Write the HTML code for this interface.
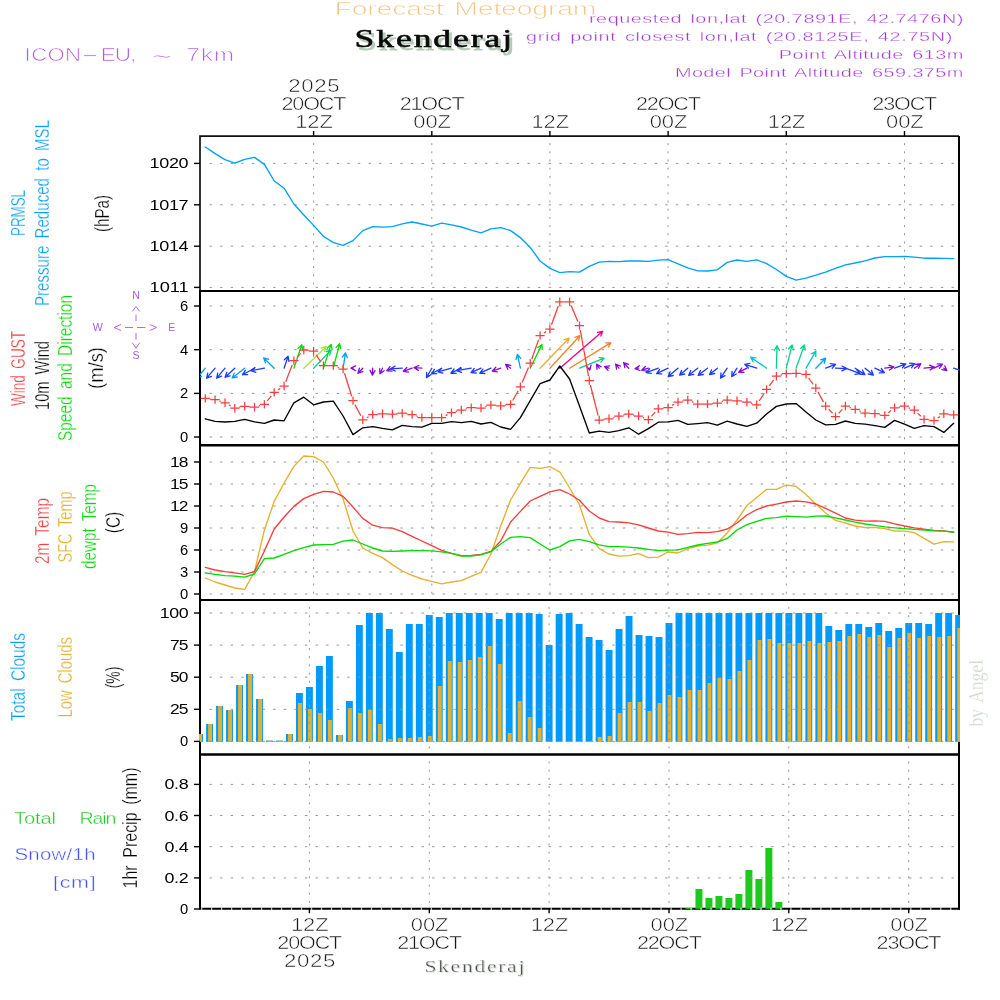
<!DOCTYPE html>
<html lang="en"><head><meta charset="utf-8"><title>Forecast Meteogram Skenderaj</title>
<style>html,body{margin:0;padding:0;background:#fff}svg{display:block}text{font-family:"Liberation Sans",sans-serif}.sf{font-family:"Liberation Serif",serif}.g{stroke:#969696;stroke-width:1;fill:none}.ln{fill:none;stroke-width:1.35;stroke-linejoin:round;stroke-linecap:round}.ax{font-size:14.6px;fill:#111}.tk{stroke:#000;stroke-width:1.4}.vl{font-size:20px}</style></head><body>
<svg width="1000" height="1000" viewBox="0 0 1000 1000">
<rect width="1000" height="1000" fill="#fff"/>
<defs>
<clipPath id="c0"><rect x="200.0" y="136.1" width="759.6" height="154.79999999999998"/></clipPath>
<clipPath id="c1"><rect x="200.0" y="290.9" width="759.6" height="154.40000000000003"/></clipPath>
<clipPath id="c2"><rect x="200.0" y="445.3" width="759.6" height="154.7"/></clipPath>
<clipPath id="c3"><rect x="199.0" y="600.0" width="761.0" height="155.54999999999995"/></clipPath>
<clipPath id="c4"><rect x="199.0" y="754.55" width="761.0" height="155.25"/></clipPath>
</defs>
<line class="g" x1="209.5" x2="958.0" y1="163.4" y2="163.4" stroke-dasharray="2.4 8.2"/>
<line class="g" x1="209.5" x2="958.0" y1="204.8" y2="204.8" stroke-dasharray="2.4 8.2"/>
<line class="g" x1="209.5" x2="958.0" y1="246.2" y2="246.2" stroke-dasharray="2.4 8.2"/>
<line class="g" x1="209.5" x2="958.0" y1="287.4" y2="287.4" stroke-dasharray="2.4 8.2"/>
<line class="g" x1="313.6" x2="313.6" y1="143.1" y2="289.9" stroke-dasharray="2 6.2"/>
<line class="g" x1="431.8" x2="431.8" y1="143.1" y2="289.9" stroke-dasharray="2 6.2"/>
<line class="g" x1="549.9" x2="549.9" y1="143.1" y2="289.9" stroke-dasharray="2 6.2"/>
<line class="g" x1="668.1" x2="668.1" y1="143.1" y2="289.9" stroke-dasharray="2 6.2"/>
<line class="g" x1="786.3" x2="786.3" y1="143.1" y2="289.9" stroke-dasharray="2 6.2"/>
<line class="g" x1="904.5" x2="904.5" y1="143.1" y2="289.9" stroke-dasharray="2 6.2"/>
<line class="g" x1="209.5" x2="958.0" y1="306.0" y2="306.0" stroke-dasharray="2.4 8.2"/>
<line class="g" x1="209.5" x2="958.0" y1="349.7" y2="349.7" stroke-dasharray="2.4 8.2"/>
<line class="g" x1="209.5" x2="958.0" y1="393.4" y2="393.4" stroke-dasharray="2.4 8.2"/>
<line class="g" x1="209.5" x2="958.0" y1="437.0" y2="437.0" stroke-dasharray="2.4 8.2"/>
<line class="g" x1="313.6" x2="313.6" y1="297.9" y2="444.3" stroke-dasharray="2 6.2"/>
<line class="g" x1="431.8" x2="431.8" y1="297.9" y2="444.3" stroke-dasharray="2 6.2"/>
<line class="g" x1="549.9" x2="549.9" y1="297.9" y2="444.3" stroke-dasharray="2 6.2"/>
<line class="g" x1="668.1" x2="668.1" y1="297.9" y2="444.3" stroke-dasharray="2 6.2"/>
<line class="g" x1="786.3" x2="786.3" y1="297.9" y2="444.3" stroke-dasharray="2 6.2"/>
<line class="g" x1="904.5" x2="904.5" y1="297.9" y2="444.3" stroke-dasharray="2 6.2"/>
<line class="g" x1="209.5" x2="958.0" y1="462" y2="462" stroke-dasharray="2.4 8.2"/>
<line class="g" x1="209.5" x2="958.0" y1="484" y2="484" stroke-dasharray="2.4 8.2"/>
<line class="g" x1="209.5" x2="958.0" y1="506" y2="506" stroke-dasharray="2.4 8.2"/>
<line class="g" x1="209.5" x2="958.0" y1="528" y2="528" stroke-dasharray="2.4 8.2"/>
<line class="g" x1="209.5" x2="958.0" y1="550" y2="550" stroke-dasharray="2.4 8.2"/>
<line class="g" x1="209.5" x2="958.0" y1="572" y2="572" stroke-dasharray="2.4 8.2"/>
<line class="g" x1="209.5" x2="958.0" y1="594" y2="594" stroke-dasharray="2.4 8.2"/>
<line class="g" x1="313.6" x2="313.6" y1="452.3" y2="599.0" stroke-dasharray="2 6.2"/>
<line class="g" x1="431.8" x2="431.8" y1="452.3" y2="599.0" stroke-dasharray="2 6.2"/>
<line class="g" x1="549.9" x2="549.9" y1="452.3" y2="599.0" stroke-dasharray="2 6.2"/>
<line class="g" x1="668.1" x2="668.1" y1="452.3" y2="599.0" stroke-dasharray="2 6.2"/>
<line class="g" x1="786.3" x2="786.3" y1="452.3" y2="599.0" stroke-dasharray="2 6.2"/>
<line class="g" x1="904.5" x2="904.5" y1="452.3" y2="599.0" stroke-dasharray="2 6.2"/>
<path d="M200.0 908.8V136.1H959.0" fill="none" stroke="#111" stroke-width="1.7"/>
<path d="M200.0 290.9V908.8" fill="none" stroke="#000" stroke-width="1.9"/>
<path d="M959.0 136.1V909.8" fill="none" stroke="#000" stroke-width="2"/>
<line x1="199.1" x2="960.0" y1="290.9" y2="290.9" stroke="#000" stroke-width="2.0"/>
<line x1="199.1" x2="960.0" y1="445.3" y2="445.3" stroke="#000" stroke-width="2.5"/>
<line x1="199.1" x2="960.0" y1="600.0" y2="600.0" stroke="#000" stroke-width="2.0"/>
<line x1="199.1" x2="960.0" y1="754.55" y2="754.55" stroke="#000" stroke-width="2.4"/>
<line x1="199.1" x2="960.0" y1="908.8" y2="908.8" stroke="#000" stroke-width="2.0"/>
<g clip-path="url(#c3)">
<rect x="196.10" y="734.0" width="6.9" height="7.8" fill="#009bfa"/>
<rect x="206.09" y="724.0" width="6.9" height="17.8" fill="#009bfa"/>
<rect x="216.08" y="706.0" width="6.9" height="35.8" fill="#009bfa"/>
<rect x="226.06" y="710.0" width="6.9" height="31.8" fill="#009bfa"/>
<rect x="236.05" y="685.0" width="6.9" height="56.8" fill="#009bfa"/>
<rect x="246.04" y="674.0" width="6.9" height="67.8" fill="#009bfa"/>
<rect x="256.03" y="699.0" width="6.9" height="42.8" fill="#009bfa"/>
<rect x="266.02" y="740.6" width="6.9" height="1.2" fill="#009bfa"/>
<rect x="276.00" y="740.6" width="6.9" height="1.2" fill="#009bfa"/>
<rect x="285.99" y="734.0" width="6.9" height="7.8" fill="#009bfa"/>
<rect x="295.98" y="693.0" width="6.9" height="48.8" fill="#009bfa"/>
<rect x="305.97" y="687.0" width="6.9" height="54.8" fill="#009bfa"/>
<rect x="315.96" y="666.0" width="6.9" height="75.8" fill="#009bfa"/>
<rect x="325.94" y="656.0" width="6.9" height="85.8" fill="#009bfa"/>
<rect x="335.93" y="735.0" width="6.9" height="6.8" fill="#009bfa"/>
<rect x="345.92" y="701.0" width="6.9" height="40.8" fill="#009bfa"/>
<rect x="355.91" y="625.0" width="6.9" height="116.8" fill="#009bfa"/>
<rect x="365.90" y="613.0" width="6.9" height="128.8" fill="#009bfa"/>
<rect x="375.88" y="613.0" width="6.9" height="128.8" fill="#009bfa"/>
<rect x="385.87" y="629.0" width="6.9" height="112.8" fill="#009bfa"/>
<rect x="395.86" y="652.0" width="6.9" height="89.8" fill="#009bfa"/>
<rect x="405.85" y="624.0" width="6.9" height="117.8" fill="#009bfa"/>
<rect x="415.84" y="624.0" width="6.9" height="117.8" fill="#009bfa"/>
<rect x="425.82" y="615.0" width="6.9" height="126.8" fill="#009bfa"/>
<rect x="435.81" y="617.0" width="6.9" height="124.8" fill="#009bfa"/>
<rect x="445.80" y="613.0" width="6.9" height="128.8" fill="#009bfa"/>
<rect x="455.79" y="613.0" width="6.9" height="128.8" fill="#009bfa"/>
<rect x="465.78" y="613.0" width="6.9" height="128.8" fill="#009bfa"/>
<rect x="475.76" y="613.0" width="6.9" height="128.8" fill="#009bfa"/>
<rect x="485.75" y="613.0" width="6.9" height="128.8" fill="#009bfa"/>
<rect x="495.74" y="619.0" width="6.9" height="122.8" fill="#009bfa"/>
<rect x="505.73" y="613.0" width="6.9" height="128.8" fill="#009bfa"/>
<rect x="515.72" y="613.0" width="6.9" height="128.8" fill="#009bfa"/>
<rect x="525.70" y="613.0" width="6.9" height="128.8" fill="#009bfa"/>
<rect x="535.69" y="614.0" width="6.9" height="127.8" fill="#009bfa"/>
<rect x="545.68" y="645.0" width="6.9" height="96.8" fill="#009bfa"/>
<rect x="555.67" y="614.0" width="6.9" height="127.8" fill="#009bfa"/>
<rect x="565.66" y="613.0" width="6.9" height="128.8" fill="#009bfa"/>
<rect x="575.64" y="624.0" width="6.9" height="117.8" fill="#009bfa"/>
<rect x="585.63" y="637.0" width="6.9" height="104.8" fill="#009bfa"/>
<rect x="595.62" y="640.0" width="6.9" height="101.8" fill="#009bfa"/>
<rect x="605.61" y="650.0" width="6.9" height="91.8" fill="#009bfa"/>
<rect x="615.60" y="629.0" width="6.9" height="112.8" fill="#009bfa"/>
<rect x="625.58" y="616.0" width="6.9" height="125.8" fill="#009bfa"/>
<rect x="635.57" y="635.0" width="6.9" height="106.8" fill="#009bfa"/>
<rect x="645.56" y="636.0" width="6.9" height="105.8" fill="#009bfa"/>
<rect x="655.55" y="637.0" width="6.9" height="104.8" fill="#009bfa"/>
<rect x="665.54" y="623.0" width="6.9" height="118.8" fill="#009bfa"/>
<rect x="675.52" y="613.0" width="6.9" height="128.8" fill="#009bfa"/>
<rect x="685.51" y="613.0" width="6.9" height="128.8" fill="#009bfa"/>
<rect x="695.50" y="613.0" width="6.9" height="128.8" fill="#009bfa"/>
<rect x="705.49" y="613.0" width="6.9" height="128.8" fill="#009bfa"/>
<rect x="715.48" y="613.0" width="6.9" height="128.8" fill="#009bfa"/>
<rect x="725.46" y="613.0" width="6.9" height="128.8" fill="#009bfa"/>
<rect x="735.45" y="613.0" width="6.9" height="128.8" fill="#009bfa"/>
<rect x="745.44" y="613.0" width="6.9" height="128.8" fill="#009bfa"/>
<rect x="755.43" y="613.0" width="6.9" height="128.8" fill="#009bfa"/>
<rect x="765.42" y="613.0" width="6.9" height="128.8" fill="#009bfa"/>
<rect x="775.40" y="613.0" width="6.9" height="128.8" fill="#009bfa"/>
<rect x="785.39" y="613.0" width="6.9" height="128.8" fill="#009bfa"/>
<rect x="795.38" y="613.0" width="6.9" height="128.8" fill="#009bfa"/>
<rect x="805.37" y="613.0" width="6.9" height="128.8" fill="#009bfa"/>
<rect x="815.36" y="613.0" width="6.9" height="128.8" fill="#009bfa"/>
<rect x="825.34" y="626.0" width="6.9" height="115.8" fill="#009bfa"/>
<rect x="835.33" y="630.0" width="6.9" height="111.8" fill="#009bfa"/>
<rect x="845.32" y="624.0" width="6.9" height="117.8" fill="#009bfa"/>
<rect x="855.31" y="624.0" width="6.9" height="117.8" fill="#009bfa"/>
<rect x="865.30" y="627.0" width="6.9" height="114.8" fill="#009bfa"/>
<rect x="875.28" y="623.0" width="6.9" height="118.8" fill="#009bfa"/>
<rect x="885.27" y="631.0" width="6.9" height="110.8" fill="#009bfa"/>
<rect x="895.26" y="628.0" width="6.9" height="113.8" fill="#009bfa"/>
<rect x="905.25" y="623.0" width="6.9" height="118.8" fill="#009bfa"/>
<rect x="915.24" y="623.0" width="6.9" height="118.8" fill="#009bfa"/>
<rect x="925.22" y="624.0" width="6.9" height="117.8" fill="#009bfa"/>
<rect x="935.21" y="613.0" width="6.9" height="128.8" fill="#009bfa"/>
<rect x="945.20" y="613.0" width="6.9" height="128.8" fill="#009bfa"/>
<rect x="955.19" y="615.0" width="6.9" height="126.8" fill="#009bfa"/>
<rect x="198.15" y="734.0" width="3.9" height="7.8" fill="#e6af2d"/>
<rect x="208.14" y="724.0" width="3.9" height="17.8" fill="#e6af2d"/>
<rect x="218.13" y="706.0" width="3.9" height="35.8" fill="#e6af2d"/>
<rect x="228.11" y="710.0" width="3.9" height="31.8" fill="#e6af2d"/>
<rect x="238.10" y="685.0" width="3.9" height="56.8" fill="#e6af2d"/>
<rect x="248.09" y="674.0" width="3.9" height="67.8" fill="#e6af2d"/>
<rect x="258.08" y="699.0" width="3.9" height="42.8" fill="#e6af2d"/>
<rect x="268.07" y="740.6" width="3.9" height="1.2" fill="#e6af2d"/>
<rect x="278.05" y="740.6" width="3.9" height="1.2" fill="#e6af2d"/>
<rect x="288.04" y="734.0" width="3.9" height="7.8" fill="#e6af2d"/>
<rect x="298.03" y="703.0" width="3.9" height="38.8" fill="#e6af2d"/>
<rect x="308.02" y="709.0" width="3.9" height="32.8" fill="#e6af2d"/>
<rect x="318.01" y="713.0" width="3.9" height="28.8" fill="#e6af2d"/>
<rect x="327.99" y="720.0" width="3.9" height="21.8" fill="#e6af2d"/>
<rect x="337.98" y="735.0" width="3.9" height="6.8" fill="#e6af2d"/>
<rect x="347.97" y="708.0" width="3.9" height="33.8" fill="#e6af2d"/>
<rect x="357.96" y="713.0" width="3.9" height="28.8" fill="#e6af2d"/>
<rect x="367.95" y="710.0" width="3.9" height="31.8" fill="#e6af2d"/>
<rect x="377.93" y="724.0" width="3.9" height="17.8" fill="#e6af2d"/>
<rect x="387.92" y="739.0" width="3.9" height="2.8" fill="#e6af2d"/>
<rect x="397.91" y="738.0" width="3.9" height="3.8" fill="#e6af2d"/>
<rect x="407.90" y="738.0" width="3.9" height="3.8" fill="#e6af2d"/>
<rect x="417.89" y="737.0" width="3.9" height="4.8" fill="#e6af2d"/>
<rect x="427.87" y="736.0" width="3.9" height="5.8" fill="#e6af2d"/>
<rect x="437.86" y="686.0" width="3.9" height="55.8" fill="#e6af2d"/>
<rect x="447.85" y="661.0" width="3.9" height="80.8" fill="#e6af2d"/>
<rect x="457.84" y="662.0" width="3.9" height="79.8" fill="#e6af2d"/>
<rect x="467.83" y="660.0" width="3.9" height="81.8" fill="#e6af2d"/>
<rect x="477.81" y="657.0" width="3.9" height="84.8" fill="#e6af2d"/>
<rect x="487.80" y="646.0" width="3.9" height="95.8" fill="#e6af2d"/>
<rect x="497.79" y="664.0" width="3.9" height="77.8" fill="#e6af2d"/>
<rect x="507.78" y="733.0" width="3.9" height="8.8" fill="#e6af2d"/>
<rect x="517.77" y="701.0" width="3.9" height="40.8" fill="#e6af2d"/>
<rect x="527.75" y="717.0" width="3.9" height="24.8" fill="#e6af2d"/>
<rect x="537.74" y="728.0" width="3.9" height="13.8" fill="#e6af2d"/>
<rect x="547.73" y="741.2" width="3.9" height="0.6" fill="#e6af2d"/>
<rect x="557.72" y="741.2" width="3.9" height="0.6" fill="#e6af2d"/>
<rect x="567.71" y="741.2" width="3.9" height="0.6" fill="#e6af2d"/>
<rect x="577.69" y="741.2" width="3.9" height="0.6" fill="#e6af2d"/>
<rect x="587.68" y="741.2" width="3.9" height="0.6" fill="#e6af2d"/>
<rect x="597.67" y="737.0" width="3.9" height="4.8" fill="#e6af2d"/>
<rect x="607.66" y="736.0" width="3.9" height="5.8" fill="#e6af2d"/>
<rect x="617.65" y="713.0" width="3.9" height="28.8" fill="#e6af2d"/>
<rect x="627.63" y="702.0" width="3.9" height="39.8" fill="#e6af2d"/>
<rect x="637.62" y="702.0" width="3.9" height="39.8" fill="#e6af2d"/>
<rect x="647.61" y="711.0" width="3.9" height="30.8" fill="#e6af2d"/>
<rect x="657.60" y="703.0" width="3.9" height="38.8" fill="#e6af2d"/>
<rect x="667.59" y="695.0" width="3.9" height="46.8" fill="#e6af2d"/>
<rect x="677.57" y="697.0" width="3.9" height="44.8" fill="#e6af2d"/>
<rect x="687.56" y="690.0" width="3.9" height="51.8" fill="#e6af2d"/>
<rect x="697.55" y="690.0" width="3.9" height="51.8" fill="#e6af2d"/>
<rect x="707.54" y="683.0" width="3.9" height="58.8" fill="#e6af2d"/>
<rect x="717.53" y="678.0" width="3.9" height="63.8" fill="#e6af2d"/>
<rect x="727.51" y="679.0" width="3.9" height="62.8" fill="#e6af2d"/>
<rect x="737.50" y="671.0" width="3.9" height="70.8" fill="#e6af2d"/>
<rect x="747.49" y="660.0" width="3.9" height="81.8" fill="#e6af2d"/>
<rect x="757.48" y="640.0" width="3.9" height="101.8" fill="#e6af2d"/>
<rect x="767.47" y="639.0" width="3.9" height="102.8" fill="#e6af2d"/>
<rect x="777.45" y="643.0" width="3.9" height="98.8" fill="#e6af2d"/>
<rect x="787.44" y="643.0" width="3.9" height="98.8" fill="#e6af2d"/>
<rect x="797.43" y="643.0" width="3.9" height="98.8" fill="#e6af2d"/>
<rect x="807.42" y="641.0" width="3.9" height="100.8" fill="#e6af2d"/>
<rect x="817.41" y="643.0" width="3.9" height="98.8" fill="#e6af2d"/>
<rect x="827.39" y="642.0" width="3.9" height="99.8" fill="#e6af2d"/>
<rect x="837.38" y="641.0" width="3.9" height="100.8" fill="#e6af2d"/>
<rect x="847.37" y="636.0" width="3.9" height="105.8" fill="#e6af2d"/>
<rect x="857.36" y="634.0" width="3.9" height="107.8" fill="#e6af2d"/>
<rect x="867.35" y="637.0" width="3.9" height="104.8" fill="#e6af2d"/>
<rect x="877.33" y="635.0" width="3.9" height="106.8" fill="#e6af2d"/>
<rect x="887.32" y="647.0" width="3.9" height="94.8" fill="#e6af2d"/>
<rect x="897.31" y="638.0" width="3.9" height="103.8" fill="#e6af2d"/>
<rect x="907.30" y="633.0" width="3.9" height="108.8" fill="#e6af2d"/>
<rect x="917.29" y="638.0" width="3.9" height="103.8" fill="#e6af2d"/>
<rect x="927.27" y="636.0" width="3.9" height="105.8" fill="#e6af2d"/>
<rect x="937.26" y="637.0" width="3.9" height="104.8" fill="#e6af2d"/>
<rect x="947.25" y="636.0" width="3.9" height="105.8" fill="#e6af2d"/>
<rect x="957.24" y="628.0" width="3.9" height="113.8" fill="#e6af2d"/>
</g>
<g clip-path="url(#c4)">
<rect x="685.46" y="908.0" width="7" height="0.8" fill="#1ec81e"/>
<rect x="695.45" y="889.0" width="7" height="19.8" fill="#1ec81e"/>
<rect x="705.44" y="898.0" width="7" height="10.8" fill="#1ec81e"/>
<rect x="715.43" y="896.0" width="7" height="12.8" fill="#1ec81e"/>
<rect x="725.41" y="898.0" width="7" height="10.8" fill="#1ec81e"/>
<rect x="735.40" y="894.0" width="7" height="14.8" fill="#1ec81e"/>
<rect x="745.39" y="870.0" width="7" height="38.8" fill="#1ec81e"/>
<rect x="755.38" y="879.0" width="7" height="29.8" fill="#1ec81e"/>
<rect x="765.37" y="848.0" width="7" height="60.8" fill="#1ec81e"/>
<rect x="775.35" y="902.0" width="7" height="6.8" fill="#1ec81e"/>
</g>
<line class="g" x1="209.5" x2="958.0" y1="613.0" y2="613.0" stroke-dasharray="2.4 8.2"/>
<line class="g" x1="209.5" x2="958.0" y1="645.1" y2="645.1" stroke-dasharray="2.4 8.2"/>
<line class="g" x1="209.5" x2="958.0" y1="677.2" y2="677.2" stroke-dasharray="2.4 8.2"/>
<line class="g" x1="209.5" x2="958.0" y1="709.3" y2="709.3" stroke-dasharray="2.4 8.2"/>
<line class="g" x1="209.5" x2="958.0" y1="741.4" y2="741.4" stroke-dasharray="2.4 8.2"/>
<line class="g" x1="309.4" x2="309.4" y1="607.0" y2="753.5" stroke-dasharray="2 6.2"/>
<line class="g" x1="429.3" x2="429.3" y1="607.0" y2="753.5" stroke-dasharray="2 6.2"/>
<line class="g" x1="549.1" x2="549.1" y1="607.0" y2="753.5" stroke-dasharray="2 6.2"/>
<line class="g" x1="669.0" x2="669.0" y1="607.0" y2="753.5" stroke-dasharray="2 6.2"/>
<line class="g" x1="788.8" x2="788.8" y1="607.0" y2="753.5" stroke-dasharray="2 6.2"/>
<line class="g" x1="908.7" x2="908.7" y1="607.0" y2="753.5" stroke-dasharray="2 6.2"/>
<line class="g" x1="209.5" x2="958.0" y1="784.4" y2="784.4" stroke-dasharray="2.4 8.2"/>
<line class="g" x1="209.5" x2="958.0" y1="815.5" y2="815.5" stroke-dasharray="2.4 8.2"/>
<line class="g" x1="209.5" x2="958.0" y1="846.7" y2="846.7" stroke-dasharray="2.4 8.2"/>
<line class="g" x1="209.5" x2="958.0" y1="877.9" y2="877.9" stroke-dasharray="2.4 8.2"/>
<line class="g" x1="309.4" x2="309.4" y1="761.5" y2="907.8" stroke-dasharray="2 6.2"/>
<line class="g" x1="429.3" x2="429.3" y1="761.5" y2="907.8" stroke-dasharray="2 6.2"/>
<line class="g" x1="549.1" x2="549.1" y1="761.5" y2="907.8" stroke-dasharray="2 6.2"/>
<line class="g" x1="669.0" x2="669.0" y1="761.5" y2="907.8" stroke-dasharray="2 6.2"/>
<line class="g" x1="788.8" x2="788.8" y1="761.5" y2="907.8" stroke-dasharray="2 6.2"/>
<line class="g" x1="908.7" x2="908.7" y1="761.5" y2="907.8" stroke-dasharray="2 6.2"/>
<line x1="201.0" x2="958.0" y1="908.8" y2="908.8" stroke="#fff" stroke-opacity="0.7" stroke-width="2.4" stroke-dasharray="1.3 8.688" stroke-dashoffset="-10.00"/>
<polyline class="ln" clip-path="url(#c0)" points="205.3,147.0 215.1,153.6 225.0,159.6 234.8,163.2 244.7,159.4 254.5,157.4 264.4,164.4 274.2,181.0 284.1,188.2 293.9,204.0 303.8,215.0 313.6,225.4 323.4,236.2 333.3,242.6 343.1,245.4 353.0,240.6 362.8,230.6 372.7,226.6 382.5,227.2 392.4,226.6 402.2,223.8 412.1,222.0 421.9,224.0 431.8,226.2 441.6,223.2 451.5,224.8 461.3,227.0 471.2,230.2 481.0,232.8 490.9,228.8 500.7,227.6 510.6,230.6 520.4,237.6 530.2,247.4 540.1,261.0 549.9,268.4 559.8,272.6 569.6,271.6 579.5,272.2 589.3,266.4 599.2,262.2 609.0,261.4 618.9,261.6 628.7,261.0 638.6,261.0 648.4,261.4 658.3,260.2 668.1,259.6 678.0,263.8 687.8,267.8 697.7,270.8 707.5,271.0 717.4,269.8 727.2,262.4 737.0,260.0 746.9,261.4 756.7,259.8 766.6,263.6 776.4,269.5 786.3,276.4 796.1,280.2 806.0,278.2 815.8,275.2 825.7,272.2 835.5,268.4 845.4,264.8 855.2,263.0 865.1,260.8 874.9,258.0 884.8,256.6 894.6,256.6 904.5,256.4 914.3,257.2 924.1,258.2 934.0,258.2 943.8,258.4 953.7,258.6" stroke="#00a0ff"/>
<g clip-path="url(#c1)" fill="none" stroke-width="1.3" stroke-linecap="round" stroke-linejoin="round">
<path stroke="#00a0ff" d="M205.3 368.2L196.8 378.2M201.6 376.3L196.8 378.2L197.9 373.1"/>
<path stroke="#1e3cff" d="M215.1 368.2L206.6 378.2M211.5 376.3L206.6 378.2L207.7 373.1"/>
<path stroke="#1e3cff" d="M225.0 368.2L216.7 378.2M221.5 376.2L216.7 378.2L217.7 373.1"/>
<path stroke="#1e3cff" d="M234.8 368.2L225.1 377.2M230.1 375.9L225.1 377.2L226.8 372.3"/>
<path stroke="#00a0ff" d="M244.7 368.2L232.1 377.9M237.2 377.0L232.1 377.9L234.2 373.2"/>
<path stroke="#1e3cff" d="M254.5 368.2L242.5 374.7M247.7 374.7L242.5 374.7L245.4 370.4"/>
<path stroke="#1e3cff" d="M264.4 368.2L250.9 370.7M255.8 372.3L250.9 370.7L254.9 367.5"/>
<path stroke="#00a0ff" d="M274.2 368.2L263.7 357.9M265.3 362.9L263.7 357.9L268.7 359.4"/>
<path stroke="#1e3cff" d="M284.1 368.2L288.1 356.2M284.3 359.8L288.1 356.2L288.9 361.3"/>
<path stroke="#00dc00" d="M293.9 368.2L301.8 344.8M298.0 348.4L301.8 344.8L302.7 349.9"/>
<path stroke="#a0e632" d="M303.8 368.2L326.2 346.6M321.2 348.0L326.2 346.6L324.5 351.5"/>
<path stroke="#00d28c" d="M313.6 368.2L331.1 350.1M326.2 351.7L331.1 350.1L329.7 355.1"/>
<path stroke="#00dc00" d="M323.4 368.2L331.1 344.4M327.3 348.0L331.1 344.4L332.0 349.5"/>
<path stroke="#00dc00" d="M333.3 368.2L339.6 343.6M336.1 347.4L339.6 343.6L340.8 348.7"/>
<path stroke="#00a0ff" d="M343.1 368.2L345.5 352.8M342.4 357.0L345.5 352.8L347.3 357.7"/>
<path stroke="#8a0adc" d="M353.0 368.2L351.0 368.2M355.6 370.6L351.0 368.2L355.6 365.8"/>
<path stroke="#8a0adc" d="M362.8 368.2L357.9 373.2M362.9 371.6L357.9 373.2L359.4 368.2"/>
<path stroke="#8a0adc" d="M372.7 368.2L372.4 375.1M375.0 370.6L372.4 375.1L370.1 370.4"/>
<path stroke="#8a0adc" d="M382.5 368.2L379.9 373.8M384.1 370.7L379.9 373.8L379.7 368.6"/>
<path stroke="#8a0adc" d="M392.4 368.2L386.8 370.7M392.0 371.1L386.8 370.7L390.0 366.6"/>
<path stroke="#1e3cff" d="M402.2 368.2L390.6 368.8M395.3 371.0L390.6 368.8L395.1 366.1"/>
<path stroke="#8a0adc" d="M412.1 368.2L403.3 371.3M408.5 372.1L403.3 371.3L406.8 367.5"/>
<path stroke="#8a0adc" d="M421.9 368.2L414.0 367.6M418.4 370.4L414.0 367.6L418.8 365.5"/>
<path stroke="#1e3cff" d="M431.8 368.2L426.5 377.6M430.9 374.8L426.5 377.6L426.6 372.4"/>
<path stroke="#1e3cff" d="M441.6 368.2L431.5 373.8M436.7 373.7L431.5 373.8L434.4 369.4"/>
<path stroke="#1e3cff" d="M451.5 368.2L437.9 371.9M442.9 373.1L437.9 371.9L441.6 368.4"/>
<path stroke="#1e3cff" d="M461.3 368.2L450.9 373.2M456.1 373.4L450.9 373.2L454.0 369.0"/>
<path stroke="#1e3cff" d="M471.2 368.2L456.6 370.7M461.5 372.3L456.6 370.7L460.7 367.5"/>
<path stroke="#1e3cff" d="M481.0 368.2L471.0 372.6M476.2 373.0L471.0 372.6L474.2 368.5"/>
<path stroke="#1e3cff" d="M490.9 368.2L479.8 373.2M484.9 373.5L479.8 373.2L482.9 369.1"/>
<path stroke="#8a0adc" d="M500.7 368.2L492.2 371.1M497.3 371.9L492.2 371.1L495.8 367.3"/>
<path stroke="#8a0adc" d="M510.6 368.2L505.6 364.4M507.8 369.2L505.6 364.4L510.7 365.3"/>
<path stroke="#00a0ff" d="M520.4 368.2L517.4 354.4M516.0 359.5L517.4 354.4L520.8 358.4"/>
<path stroke="#00dc00" d="M530.2 368.2L542.0 344.4M537.8 347.5L542.0 344.4L542.1 349.6"/>
<path stroke="#e6af2d" d="M540.1 368.2L569.0 338.2M564.1 339.8L569.0 338.2L567.6 343.2"/>
<path stroke="#f08228" d="M549.9 368.2L579.9 335.7M575.0 337.4L579.9 335.7L578.6 340.7"/>
<path stroke="#f00082" d="M559.8 368.2L602.7 331.3M597.6 332.4L602.7 331.3L600.8 336.1"/>
<path stroke="#f08228" d="M569.6 368.2L610.9 342.6M605.7 342.9L610.9 342.6L608.3 347.1"/>
<path stroke="#00d28c" d="M579.5 368.2L604.2 358.2M599.1 357.7L604.2 358.2L600.9 362.2"/>
<path stroke="#8a0adc" d="M589.3 368.2L589.8 370.2M591.1 365.2L589.8 370.2L586.4 366.3"/>
<path stroke="#8a0adc" d="M599.2 368.2L596.6 364.1M597.0 369.3L596.6 364.1L601.1 366.7"/>
<path stroke="#8a0adc" d="M609.0 368.2L604.5 366.6M608.0 370.4L604.5 366.6L609.7 365.8"/>
<path stroke="#8a0adc" d="M618.9 368.2L615.6 364.1M616.6 369.2L615.6 364.1L620.4 366.1"/>
<path stroke="#8a0adc" d="M628.7 368.2L623.6 362.6M624.9 367.6L623.6 362.6L628.5 364.4"/>
<path stroke="#8a0adc" d="M638.6 368.2L635.1 368.6M639.9 370.5L635.1 368.6L639.4 365.7"/>
<path stroke="#8a0adc" d="M648.4 368.2L641.6 370.1M646.7 371.2L641.6 370.1L645.4 366.5"/>
<path stroke="#1e3cff" d="M658.3 368.2L646.1 372.6M651.2 373.3L646.1 372.6L649.6 368.7"/>
<path stroke="#1e3cff" d="M668.1 368.2L656.6 373.6M661.8 373.9L656.6 373.6L659.7 369.4"/>
<path stroke="#1e3cff" d="M678.0 368.2L668.2 376.6M673.2 375.5L668.2 376.6L670.1 371.8"/>
<path stroke="#1e3cff" d="M687.8 368.2L679.7 375.1M684.8 374.0L679.7 375.1L681.6 370.3"/>
<path stroke="#1e3cff" d="M697.7 368.2L688.7 375.3M693.8 374.4L688.7 375.3L690.7 370.5"/>
<path stroke="#1e3cff" d="M707.5 368.2L698.2 375.3M703.3 374.5L698.2 375.3L700.4 370.6"/>
<path stroke="#1e3cff" d="M717.4 368.2L709.6 374.6M714.7 373.5L709.6 374.6L711.6 369.8"/>
<path stroke="#1e3cff" d="M727.2 368.2L720.5 378.1M725.1 375.7L720.5 378.1L721.0 372.9"/>
<path stroke="#1e3cff" d="M737.0 368.2L731.7 376.6M736.3 374.0L731.7 376.6L732.1 371.4"/>
<path stroke="#8a0adc" d="M746.9 368.2L738.7 372.3M743.9 372.4L738.7 372.3L741.7 368.1"/>
<path stroke="#1e3cff" d="M756.7 368.2L744.7 364.3M748.4 368.0L744.7 364.3L749.9 363.4"/>
<path stroke="#00c8c8" d="M766.6 368.2L750.7 357.2M753.1 361.8L750.7 357.2L755.9 357.8"/>
<path stroke="#00d28c" d="M776.4 368.2L777.0 345.7M774.5 350.2L777.0 345.7L779.4 350.4"/>
<path stroke="#00d28c" d="M786.3 368.2L792.1 344.9M788.6 348.8L792.1 344.9L793.3 349.9"/>
<path stroke="#00d28c" d="M796.1 368.2L804.4 344.9M800.6 348.4L804.4 344.9L805.2 350.0"/>
<path stroke="#00c8c8" d="M806.0 368.2L815.9 351.2M811.5 353.9L815.9 351.2L815.7 356.4"/>
<path stroke="#00a0ff" d="M815.8 368.2L825.6 358.2M820.7 359.8L825.6 358.2L824.2 363.2"/>
<path stroke="#1e3cff" d="M825.7 368.2L835.6 364.3M830.4 363.7L835.6 364.3L832.2 368.3"/>
<path stroke="#1e3cff" d="M835.5 368.2L846.6 368.6M842.1 366.0L846.6 368.6L841.9 370.9"/>
<path stroke="#1e3cff" d="M845.4 368.2L860.2 373.6M856.7 369.7L860.2 373.6L855.0 374.3"/>
<path stroke="#1e3cff" d="M855.2 368.2L864.9 374.6M862.4 370.0L864.9 374.6L859.7 374.1"/>
<path stroke="#1e3cff" d="M865.1 368.2L873.4 375.1M871.4 370.3L873.4 375.1L868.3 374.0"/>
<path stroke="#1e3cff" d="M874.9 368.2L884.4 372.6M881.3 368.5L884.4 372.6L879.2 372.9"/>
<path stroke="#8a0adc" d="M884.8 368.2L893.8 366.9M888.9 365.1L893.8 366.9L889.6 370.0"/>
<path stroke="#1e3cff" d="M894.6 368.2L905.9 363.9M900.7 363.3L905.9 363.9L902.5 367.8"/>
<path stroke="#1e3cff" d="M904.5 368.2L914.8 363.6M909.6 363.2L914.8 363.6L911.6 367.7"/>
<path stroke="#8a0adc" d="M914.3 368.2L920.8 363.6M915.6 364.3L920.8 363.6L918.5 368.2"/>
<path stroke="#8a0adc" d="M924.1 368.2L934.4 367.1M929.6 365.2L934.4 367.1L930.1 370.0"/>
<path stroke="#8a0adc" d="M934.0 368.2L942.5 364.1M937.3 363.9L942.5 364.1L939.4 368.3"/>
<path stroke="#8a0adc" d="M943.8 368.2L946.9 370.6M944.8 365.9L946.9 370.6L941.8 369.7"/>
<path stroke="#1e3cff" d="M953.7 368.2L965.7 372.2M962.1 368.4L965.7 372.2L960.6 373.1"/>
</g>
<g clip-path="url(#c1)" stroke="#fa3c3c" stroke-width="1.25" fill="none" stroke-linecap="butt">
<path d="M209.7 398.9L210.7 399.1M219.4 401.0L220.7 401.4M228.9 405.0L230.9 406.0M239.2 407.4L240.2 407.2M249.2 406.8L250.0 406.8M258.8 406.0L260.0 405.6M267.2 400.9L271.4 395.9M278.0 389.9L280.3 388.5M285.7 381.8L292.3 364.8M297.0 357.3L300.7 353.3M308.2 350.5L309.1 350.7M316.1 354.9L320.9 361.9M327.9 365.6L328.8 365.6M337.6 367.1L338.9 367.5M344.5 373.3L351.7 396.3M355.0 404.6L360.8 415.8M366.8 417.7L368.7 416.7M377.2 414.2L378.0 414.2M387.0 413.9L387.9 413.9M396.9 413.6L397.7 413.6M406.7 413.8L407.6 414.0M416.4 415.9L417.6 416.3M426.4 417.6L427.3 417.6M436.3 417.6L437.1 417.6M445.6 415.6L447.5 414.6M455.8 411.5L457.0 411.1M465.7 408.9L466.8 408.7M475.7 407.8L476.5 407.8M485.3 406.7L486.6 406.3M495.3 405.4L496.2 405.4M505.2 405.2L506.1 405.0M512.7 400.5L518.2 390.7M522.1 382.6L528.5 367.4M531.8 359.0L538.6 339.8M543.8 333.1L546.2 331.5M551.5 324.8L558.3 306.0M564.3 301.8L565.1 301.8M571.4 306.0L577.8 321.4M580.3 330.0L588.5 376.2M590.4 385.0L598.1 415.6M603.6 419.5L604.6 419.3M613.4 417.6L614.5 417.2M623.3 415.1L624.3 414.9M633.1 414.9L634.2 415.1M642.8 417.5L644.2 418.1M651.4 416.3L655.2 412.1M662.7 408.3L663.6 408.1M672.0 405.4L674.0 404.2M682.4 401.1L683.4 400.9M692.0 401.7L693.5 402.3M702.2 404.0L703.0 404.0M712.0 403.5L712.9 403.5M721.7 401.7L722.9 401.3M731.7 400.4L732.6 400.4M741.5 401.4L742.4 401.6M751.2 403.3L752.4 403.7M759.2 401.0L764.2 393.2M769.3 385.8L773.7 379.8M780.8 375.1L781.9 374.7M790.8 373.5L791.6 373.5M800.6 373.9L801.5 373.9M808.6 378.0L813.2 384.4M818.0 391.9L823.5 402.1M828.7 409.3L832.5 413.3M838.6 413.3L842.3 409.3M849.6 407.5L851.0 407.9M859.4 410.9L860.8 411.5M869.6 413.3L870.4 413.3M879.3 414.4L880.3 414.6M888.3 412.7L891.0 410.5M899.0 407.1L900.0 406.9M908.7 407.8L910.1 408.4M917.6 413.1L920.9 416.3M928.6 419.9L929.5 420.1M937.7 418.0L940.1 416.4M948.3 414.3L949.2 414.3"/>
<path d="M200.7 398.4h9.2M205.3 394.2v8.4M210.5 399.6h9.2M215.1 395.4v8.4M220.4 402.8h9.2M225.0 398.6v8.4M230.2 408.2h9.2M234.8 404.0v8.4M240.1 406.4h9.2M244.7 402.2v8.4M249.9 407.2h9.2M254.5 403.0v8.4M259.8 404.4h9.2M264.4 400.2v8.4M269.6 392.4h9.2M274.2 388.2v8.4M279.5 386.0h9.2M284.1 381.8v8.4M289.3 360.6h9.2M293.9 356.4v8.4M299.2 350.0h9.2M303.8 345.8v8.4M309.0 351.2h9.2M313.6 347.0v8.4M318.8 365.6h9.2M323.4 361.4v8.4M328.7 365.6h9.2M333.3 361.4v8.4M338.5 369.0h9.2M343.1 364.8v8.4M348.4 400.6h9.2M353.0 396.4v8.4M358.2 419.8h9.2M362.8 415.6v8.4M368.1 414.6h9.2M372.7 410.4v8.4M377.9 413.8h9.2M382.5 409.6v8.4M387.8 414.0h9.2M392.4 409.8v8.4M397.6 413.2h9.2M402.2 409.0v8.4M407.5 414.6h9.2M412.1 410.4v8.4M417.3 417.6h9.2M421.9 413.4v8.4M427.2 417.6h9.2M431.8 413.4v8.4M437.0 417.6h9.2M441.6 413.4v8.4M446.9 412.6h9.2M451.5 408.4v8.4M456.7 410.0h9.2M461.3 405.8v8.4M466.6 407.6h9.2M471.2 403.4v8.4M476.4 408.0h9.2M481.0 403.8v8.4M486.3 405.0h9.2M490.9 400.8v8.4M496.1 405.8h9.2M500.7 401.6v8.4M506.0 404.4h9.2M510.6 400.2v8.4M515.8 386.8h9.2M520.4 382.6v8.4M525.6 363.2h9.2M530.2 359.0v8.4M535.5 335.6h9.2M540.1 331.4v8.4M545.3 329.0h9.2M549.9 324.8v8.4M555.2 301.8h9.2M559.8 297.6v8.4M565.0 301.8h9.2M569.6 297.6v8.4M574.9 325.6h9.2M579.5 321.4v8.4M584.7 380.6h9.2M589.3 376.4v8.4M594.6 420.0h9.2M599.2 415.8v8.4M604.4 418.8h9.2M609.0 414.6v8.4M614.3 416.0h9.2M618.9 411.8v8.4M624.1 414.0h9.2M628.7 409.8v8.4M634.0 416.0h9.2M638.6 411.8v8.4M643.8 419.6h9.2M648.4 415.4v8.4M653.7 408.8h9.2M658.3 404.6v8.4M663.5 407.6h9.2M668.1 403.4v8.4M673.4 402.0h9.2M678.0 397.8v8.4M683.2 400.0h9.2M687.8 395.8v8.4M693.1 404.0h9.2M697.7 399.8v8.4M702.9 404.0h9.2M707.5 399.8v8.4M712.8 403.0h9.2M717.4 398.8v8.4M722.6 400.0h9.2M727.2 395.8v8.4M732.4 400.8h9.2M737.0 396.6v8.4M742.3 402.2h9.2M746.9 398.0v8.4M752.1 404.8h9.2M756.7 400.6v8.4M762.0 389.4h9.2M766.6 385.2v8.4M771.8 376.2h9.2M776.4 372.0v8.4M781.7 373.6h9.2M786.3 369.4v8.4M791.5 373.4h9.2M796.1 369.2v8.4M801.4 374.4h9.2M806.0 370.2v8.4M811.2 388.0h9.2M815.8 383.8v8.4M821.1 406.0h9.2M825.7 401.8v8.4M830.9 416.6h9.2M835.5 412.4v8.4M840.8 406.0h9.2M845.4 401.8v8.4M850.6 409.4h9.2M855.2 405.2v8.4M860.5 413.0h9.2M865.1 408.8v8.4M870.3 413.6h9.2M874.9 409.4v8.4M880.2 415.4h9.2M884.8 411.2v8.4M890.0 407.8h9.2M894.6 403.6v8.4M899.9 406.2h9.2M904.5 402.0v8.4M909.7 410.0h9.2M914.3 405.8v8.4M919.5 419.4h9.2M924.1 415.2v8.4M929.4 420.6h9.2M934.0 416.4v8.4M939.2 413.8h9.2M943.8 409.6v8.4M949.1 414.8h9.2M953.7 410.6v8.4"/>
</g>
<polyline class="ln" clip-path="url(#c1)" points="205.3,418.8 215.1,421.4 225.0,422.0 234.8,421.4 244.7,419.4 254.5,421.8 264.4,423.4 274.2,420.0 284.1,420.8 293.9,402.8 303.8,397.2 313.6,404.8 323.4,402.0 333.3,401.2 343.1,416.0 353.0,434.6 362.8,427.8 372.7,426.6 382.5,428.4 392.4,429.8 402.2,425.4 412.1,426.6 421.9,427.2 431.8,423.4 441.6,423.4 451.5,421.6 461.3,422.6 471.2,421.4 481.0,424.0 490.9,422.4 500.7,427.0 510.6,429.4 520.4,417.6 530.2,400.6 540.1,383.6 549.9,380.0 559.8,366.0 569.6,379.0 579.5,406.0 589.3,433.0 599.2,431.2 609.0,432.4 618.9,430.6 628.7,427.8 638.6,434.2 648.4,428.6 658.3,422.2 668.1,421.8 678.0,420.4 687.8,424.4 697.7,423.6 707.5,422.6 717.4,425.2 727.2,421.2 737.0,424.0 746.9,426.4 756.7,423.2 766.6,414.0 776.4,406.4 786.3,404.0 796.1,403.6 806.0,412.0 815.8,420.0 825.7,424.8 835.5,424.4 845.4,421.0 855.2,423.4 865.1,424.2 874.9,425.6 884.8,427.4 894.6,420.4 904.5,424.2 914.3,428.4 924.1,425.6 934.0,426.6 943.8,432.4 953.7,423.2" stroke="#000" stroke-width="1.35"/>
<polyline class="ln" clip-path="url(#c2)" points="205.3,578.0 215.1,582.0 225.0,585.0 234.8,588.0 244.7,589.4 254.5,571.6 264.4,530.0 274.2,501.4 284.1,483.0 293.9,466.4 303.8,456.0 313.6,456.6 323.4,462.0 333.3,478.0 343.1,499.0 353.0,531.0 362.8,548.0 372.7,553.4 382.5,557.6 392.4,564.6 402.2,571.0 412.1,575.4 421.9,579.0 431.8,581.4 441.6,583.8 451.5,582.0 461.3,580.6 471.2,576.4 481.0,572.4 490.9,554.0 500.7,526.0 510.6,500.0 520.4,483.4 530.2,467.4 540.1,468.4 549.9,466.6 559.8,472.0 569.6,488.0 579.5,505.0 589.3,534.4 599.2,548.6 609.0,554.0 618.9,556.2 628.7,555.6 638.6,553.6 648.4,557.6 658.3,557.2 668.1,552.0 678.0,553.0 687.8,548.6 697.7,546.0 707.5,545.2 717.4,542.8 727.2,533.0 737.0,520.0 746.9,505.6 756.7,497.4 766.6,489.4 776.4,489.4 786.3,485.0 796.1,486.4 806.0,494.6 815.8,504.0 825.7,513.0 835.5,520.4 845.4,523.2 855.2,526.0 865.1,527.6 874.9,527.4 884.8,528.6 894.6,531.0 904.5,531.2 914.3,532.6 924.1,538.4 934.0,544.2 943.8,541.6 953.7,541.8" stroke="#e6af2d"/>
<polyline class="ln" clip-path="url(#c2)" points="205.3,567.4 215.1,570.0 225.0,571.6 234.8,572.8 244.7,574.4 254.5,571.6 264.4,551.0 274.2,529.0 284.1,517.0 293.9,506.4 303.8,498.6 313.6,494.4 323.4,491.4 333.3,492.0 343.1,496.4 353.0,507.0 362.8,518.4 372.7,525.2 382.5,527.6 392.4,528.2 402.2,531.6 412.1,536.4 421.9,541.0 431.8,545.6 441.6,550.4 451.5,553.4 461.3,555.6 471.2,555.4 481.0,554.4 490.9,551.4 500.7,541.0 510.6,522.0 520.4,511.4 530.2,501.0 540.1,496.4 549.9,491.8 559.8,489.6 569.6,494.0 579.5,500.2 589.3,511.0 599.2,518.0 609.0,521.6 618.9,522.0 628.7,522.8 638.6,524.8 648.4,528.0 658.3,531.0 668.1,532.2 678.0,534.4 687.8,533.6 697.7,532.4 707.5,532.6 717.4,531.6 727.2,529.0 737.0,523.0 746.9,515.0 756.7,509.6 766.6,506.0 776.4,504.2 786.3,502.0 796.1,501.0 806.0,501.8 815.8,504.0 825.7,508.4 835.5,513.2 845.4,518.0 855.2,520.2 865.1,521.2 874.9,520.8 884.8,521.4 894.6,523.8 904.5,526.0 914.3,527.8 924.1,529.2 934.0,530.4 943.8,530.8 953.7,532.4" stroke="#fa3c3c"/>
<polyline class="ln" clip-path="url(#c2)" points="205.3,572.8 215.1,574.4 225.0,575.6 234.8,576.2 244.7,577.2 254.5,574.0 264.4,558.6 274.2,558.0 284.1,554.4 293.9,550.6 303.8,547.6 313.6,545.0 323.4,544.6 333.3,544.4 343.1,541.2 353.0,540.0 362.8,544.0 372.7,548.0 382.5,551.0 392.4,551.4 402.2,551.0 412.1,550.6 421.9,550.6 431.8,550.8 441.6,551.8 451.5,553.4 461.3,556.0 471.2,556.0 481.0,554.8 490.9,551.6 500.7,544.0 510.6,537.4 520.4,536.6 530.2,537.6 540.1,544.0 549.9,550.0 559.8,546.6 569.6,540.8 579.5,539.4 589.3,541.6 599.2,544.8 609.0,546.6 618.9,546.6 628.7,547.2 638.6,548.0 648.4,549.4 658.3,550.6 668.1,550.2 678.0,549.8 687.8,547.4 697.7,545.0 707.5,543.4 717.4,542.0 727.2,538.4 737.0,530.0 746.9,524.6 756.7,521.4 766.6,518.4 776.4,517.6 786.3,516.2 796.1,516.6 806.0,517.2 815.8,516.2 825.7,516.0 835.5,517.8 845.4,520.0 855.2,522.2 865.1,524.0 874.9,525.4 884.8,526.8 894.6,527.8 904.5,528.6 914.3,529.4 924.1,530.0 934.0,530.8 943.8,531.2 953.7,532.0" stroke="#00dc00"/>
<line class="tk" x1="194" x2="200.0" y1="163.4" y2="163.4"/>
<text x="188.25" y="168.4" font-size="14.3px" fill="#000" text-anchor="end" letter-spacing="-0.274" textLength="38.7" lengthAdjust="spacingAndGlyphs">1020</text>
<line class="tk" x1="194" x2="200.0" y1="204.8" y2="204.8"/>
<text x="188.25" y="209.8" font-size="14.3px" fill="#000" text-anchor="end" letter-spacing="-0.274" textLength="38.7" lengthAdjust="spacingAndGlyphs">1017</text>
<line class="tk" x1="194" x2="200.0" y1="246.2" y2="246.2"/>
<text x="188.25" y="251.2" font-size="14.3px" fill="#000" text-anchor="end" letter-spacing="-0.274" textLength="38.7" lengthAdjust="spacingAndGlyphs">1014</text>
<line class="tk" x1="194" x2="200.0" y1="287.4" y2="287.4"/>
<text x="188.59" y="292.4" font-size="14.3px" fill="#000" text-anchor="end" letter-spacing="-0.009" textLength="39.0" lengthAdjust="spacingAndGlyphs">1011</text>
<line class="tk" x1="194" x2="200.0" y1="306.0" y2="306.0"/>
<text x="186.98" y="311.0" font-size="14.3px" fill="#000" text-anchor="end" letter-spacing="-1.276" textLength="6.9" lengthAdjust="spacingAndGlyphs">6</text>
<line class="tk" x1="194" x2="200.0" y1="349.7" y2="349.7"/>
<text x="186.98" y="354.7" font-size="14.3px" fill="#000" text-anchor="end" letter-spacing="-1.276" textLength="6.9" lengthAdjust="spacingAndGlyphs">4</text>
<line class="tk" x1="194" x2="200.0" y1="393.4" y2="393.4"/>
<text x="186.98" y="398.4" font-size="14.3px" fill="#000" text-anchor="end" letter-spacing="-1.276" textLength="6.9" lengthAdjust="spacingAndGlyphs">2</text>
<line class="tk" x1="194" x2="200.0" y1="437.0" y2="437.0"/>
<text x="186.98" y="442.0" font-size="14.3px" fill="#000" text-anchor="end" letter-spacing="-1.276" textLength="6.9" lengthAdjust="spacingAndGlyphs">0</text>
<line class="tk" x1="194" x2="200.0" y1="462" y2="462"/>
<text x="187.83" y="467.0" font-size="14.3px" fill="#000" text-anchor="end" letter-spacing="-0.608" textLength="17.9" lengthAdjust="spacingAndGlyphs">18</text>
<line class="tk" x1="194" x2="200.0" y1="484" y2="484"/>
<text x="187.83" y="489.0" font-size="14.3px" fill="#000" text-anchor="end" letter-spacing="-0.608" textLength="17.9" lengthAdjust="spacingAndGlyphs">15</text>
<line class="tk" x1="194" x2="200.0" y1="506" y2="506"/>
<text x="187.83" y="511.0" font-size="14.3px" fill="#000" text-anchor="end" letter-spacing="-0.608" textLength="17.9" lengthAdjust="spacingAndGlyphs">12</text>
<line class="tk" x1="194" x2="200.0" y1="528" y2="528"/>
<text x="186.98" y="533.0" font-size="14.3px" fill="#000" text-anchor="end" letter-spacing="-1.276" textLength="6.9" lengthAdjust="spacingAndGlyphs">9</text>
<line class="tk" x1="194" x2="200.0" y1="550" y2="550"/>
<text x="186.98" y="555.0" font-size="14.3px" fill="#000" text-anchor="end" letter-spacing="-1.276" textLength="6.9" lengthAdjust="spacingAndGlyphs">6</text>
<line class="tk" x1="194" x2="200.0" y1="572" y2="572"/>
<text x="186.98" y="577.0" font-size="14.3px" fill="#000" text-anchor="end" letter-spacing="-1.276" textLength="6.9" lengthAdjust="spacingAndGlyphs">3</text>
<line class="tk" x1="194" x2="200.0" y1="594" y2="594"/>
<text x="186.98" y="599.0" font-size="14.3px" fill="#000" text-anchor="end" letter-spacing="-1.276" textLength="6.9" lengthAdjust="spacingAndGlyphs">0</text>
<line class="tk" x1="194" x2="200.0" y1="613.0" y2="613.0"/>
<text x="188.11" y="618.0" font-size="14.3px" fill="#000" text-anchor="end" letter-spacing="-0.386" textLength="28.3" lengthAdjust="spacingAndGlyphs">100</text>
<line class="tk" x1="194" x2="200.0" y1="645.1" y2="645.1"/>
<text x="187.83" y="650.1" font-size="14.3px" fill="#000" text-anchor="end" letter-spacing="-0.608" textLength="17.9" lengthAdjust="spacingAndGlyphs">75</text>
<line class="tk" x1="194" x2="200.0" y1="677.2" y2="677.2"/>
<text x="187.83" y="682.2" font-size="14.3px" fill="#000" text-anchor="end" letter-spacing="-0.608" textLength="17.9" lengthAdjust="spacingAndGlyphs">50</text>
<line class="tk" x1="194" x2="200.0" y1="709.3" y2="709.3"/>
<text x="187.83" y="714.3" font-size="14.3px" fill="#000" text-anchor="end" letter-spacing="-0.608" textLength="17.9" lengthAdjust="spacingAndGlyphs">25</text>
<line class="tk" x1="194" x2="200.0" y1="741.4" y2="741.4"/>
<text x="186.98" y="746.4" font-size="14.3px" fill="#000" text-anchor="end" letter-spacing="-1.276" textLength="6.9" lengthAdjust="spacingAndGlyphs">0</text>
<line class="tk" x1="194" x2="200.0" y1="784.4" y2="784.4"/>
<text x="188.21" y="789.4" font-size="14.3px" fill="#000" text-anchor="end" letter-spacing="-0.311" textLength="23.7" lengthAdjust="spacingAndGlyphs">0.8</text>
<line class="tk" x1="194" x2="200.0" y1="815.5" y2="815.5"/>
<text x="188.21" y="820.5" font-size="14.3px" fill="#000" text-anchor="end" letter-spacing="-0.311" textLength="23.7" lengthAdjust="spacingAndGlyphs">0.6</text>
<line class="tk" x1="194" x2="200.0" y1="846.7" y2="846.7"/>
<text x="188.21" y="851.7" font-size="14.3px" fill="#000" text-anchor="end" letter-spacing="-0.311" textLength="23.7" lengthAdjust="spacingAndGlyphs">0.4</text>
<line class="tk" x1="194" x2="200.0" y1="877.9" y2="877.9"/>
<text x="188.21" y="882.9" font-size="14.3px" fill="#000" text-anchor="end" letter-spacing="-0.311" textLength="23.7" lengthAdjust="spacingAndGlyphs">0.2</text>
<line class="tk" x1="194" x2="200.0" y1="909.0" y2="909.0"/>
<text x="186.98" y="914.0" font-size="14.3px" fill="#000" text-anchor="end" letter-spacing="-1.276" textLength="6.9" lengthAdjust="spacingAndGlyphs">0</text>
<line class="tk" x1="313.6" x2="313.6" y1="131" y2="136.1"/>
<line class="tk" x1="431.8" x2="431.8" y1="131" y2="136.1"/>
<line class="tk" x1="549.9" x2="549.9" y1="131" y2="136.1"/>
<line class="tk" x1="668.1" x2="668.1" y1="131" y2="136.1"/>
<line class="tk" x1="786.3" x2="786.3" y1="131" y2="136.1"/>
<line class="tk" x1="904.5" x2="904.5" y1="131" y2="136.1"/>
<line class="tk" x1="309.4" x2="309.4" y1="908.8" y2="913.2"/>
<line class="tk" x1="429.3" x2="429.3" y1="908.8" y2="913.2"/>
<line class="tk" x1="549.1" x2="549.1" y1="908.8" y2="913.2"/>
<line class="tk" x1="669.0" x2="669.0" y1="908.8" y2="913.2"/>
<line class="tk" x1="788.8" x2="788.8" y1="908.8" y2="913.2"/>
<line class="tk" x1="908.7" x2="908.7" y1="908.8" y2="913.2"/>
<text x="313.95" y="127.6" font-size="17.6px" fill="#1a1a1a" stroke="#fff" stroke-width="0.5" text-anchor="middle" letter-spacing="-0.083" textLength="37.5" lengthAdjust="spacingAndGlyphs">12Z</text>
<text x="313.41" y="109.6" font-size="17.6px" fill="#1a1a1a" stroke="#fff" stroke-width="0.5" text-anchor="middle" letter-spacing="-0.946" textLength="63.8" lengthAdjust="spacingAndGlyphs">20OCT</text>
<text x="314.31" y="92.2" font-size="17.6px" fill="#1a1a1a" stroke="#fff" stroke-width="0.5" text-anchor="middle" letter-spacing="0.492" textLength="52.0" lengthAdjust="spacingAndGlyphs">2025</text>
<text x="432.12" y="127.6" font-size="17.6px" fill="#1a1a1a" stroke="#fff" stroke-width="0.5" text-anchor="middle" letter-spacing="-0.083" textLength="37.5" lengthAdjust="spacingAndGlyphs">00Z</text>
<text x="431.58" y="109.6" font-size="17.6px" fill="#1a1a1a" stroke="#fff" stroke-width="0.5" text-anchor="middle" letter-spacing="-0.946" textLength="63.8" lengthAdjust="spacingAndGlyphs">21OCT</text>
<text x="550.29" y="127.6" font-size="17.6px" fill="#1a1a1a" stroke="#fff" stroke-width="0.5" text-anchor="middle" letter-spacing="-0.083" textLength="37.5" lengthAdjust="spacingAndGlyphs">12Z</text>
<text x="668.46" y="127.6" font-size="17.6px" fill="#1a1a1a" stroke="#fff" stroke-width="0.5" text-anchor="middle" letter-spacing="-0.083" textLength="37.5" lengthAdjust="spacingAndGlyphs">00Z</text>
<text x="667.92" y="109.6" font-size="17.6px" fill="#1a1a1a" stroke="#fff" stroke-width="0.5" text-anchor="middle" letter-spacing="-0.946" textLength="63.8" lengthAdjust="spacingAndGlyphs">22OCT</text>
<text x="786.63" y="127.6" font-size="17.6px" fill="#1a1a1a" stroke="#fff" stroke-width="0.5" text-anchor="middle" letter-spacing="-0.083" textLength="37.5" lengthAdjust="spacingAndGlyphs">12Z</text>
<text x="904.80" y="127.6" font-size="17.6px" fill="#1a1a1a" stroke="#fff" stroke-width="0.5" text-anchor="middle" letter-spacing="-0.083" textLength="37.5" lengthAdjust="spacingAndGlyphs">00Z</text>
<text x="904.26" y="109.6" font-size="17.6px" fill="#1a1a1a" stroke="#fff" stroke-width="0.5" text-anchor="middle" letter-spacing="-0.946" textLength="63.8" lengthAdjust="spacingAndGlyphs">23OCT</text>
<text x="309.77" y="931" font-size="17.6px" fill="#1a1a1a" stroke="#fff" stroke-width="0.5" text-anchor="middle" letter-spacing="-0.083" textLength="37.5" lengthAdjust="spacingAndGlyphs">12Z</text>
<text x="309.23" y="949" font-size="17.6px" fill="#1a1a1a" stroke="#fff" stroke-width="0.5" text-anchor="middle" letter-spacing="-0.946" textLength="63.8" lengthAdjust="spacingAndGlyphs">20OCT</text>
<text x="310.13" y="966.6" font-size="17.6px" fill="#1a1a1a" stroke="#fff" stroke-width="0.5" text-anchor="middle" letter-spacing="0.492" textLength="52.0" lengthAdjust="spacingAndGlyphs">2025</text>
<text x="429.62" y="931" font-size="17.6px" fill="#1a1a1a" stroke="#fff" stroke-width="0.5" text-anchor="middle" letter-spacing="-0.083" textLength="37.5" lengthAdjust="spacingAndGlyphs">00Z</text>
<text x="429.08" y="949" font-size="17.6px" fill="#1a1a1a" stroke="#fff" stroke-width="0.5" text-anchor="middle" letter-spacing="-0.946" textLength="63.8" lengthAdjust="spacingAndGlyphs">21OCT</text>
<text x="549.48" y="931" font-size="17.6px" fill="#1a1a1a" stroke="#fff" stroke-width="0.5" text-anchor="middle" letter-spacing="-0.083" textLength="37.5" lengthAdjust="spacingAndGlyphs">12Z</text>
<text x="669.33" y="931" font-size="17.6px" fill="#1a1a1a" stroke="#fff" stroke-width="0.5" text-anchor="middle" letter-spacing="-0.083" textLength="37.5" lengthAdjust="spacingAndGlyphs">00Z</text>
<text x="668.80" y="949" font-size="17.6px" fill="#1a1a1a" stroke="#fff" stroke-width="0.5" text-anchor="middle" letter-spacing="-0.946" textLength="63.8" lengthAdjust="spacingAndGlyphs">22OCT</text>
<text x="789.19" y="931" font-size="17.6px" fill="#1a1a1a" stroke="#fff" stroke-width="0.5" text-anchor="middle" letter-spacing="-0.083" textLength="37.5" lengthAdjust="spacingAndGlyphs">12Z</text>
<text x="909.05" y="931" font-size="17.6px" fill="#1a1a1a" stroke="#fff" stroke-width="0.5" text-anchor="middle" letter-spacing="-0.083" textLength="37.5" lengthAdjust="spacingAndGlyphs">00Z</text>
<text x="908.51" y="949" font-size="17.6px" fill="#1a1a1a" stroke="#fff" stroke-width="0.5" text-anchor="middle" letter-spacing="-0.946" textLength="63.8" lengthAdjust="spacingAndGlyphs">23OCT</text>
<text x="334.50" y="15.2" font-size="17.6px" fill="#f5c384" stroke="#fff" stroke-width="0.6" text-anchor="start" letter-spacing="-0.147" textLength="261.8" lengthAdjust="spacingAndGlyphs" word-spacing="2">Forecast Meteogram</text>
<text class="sf" x="357.3" y="49.9" font-size="24.6px" font-weight="normal" fill="#b7cab7" stroke="#b7cab7" stroke-width="0.8" letter-spacing="1.395" textLength="159.5" lengthAdjust="spacingAndGlyphs">Skenderaj</text>
<text class="sf" x="354.6" y="47.3" font-size="24.6px" font-weight="normal" fill="#0a0a0a" stroke="#0a0a0a" stroke-width="0.55" letter-spacing="1.395" textLength="159.5" lengthAdjust="spacingAndGlyphs">Skenderaj</text>
<text x="24.60" y="60.9" font-size="18px" fill="#b05ae6" stroke="#fff" stroke-width="0.6" text-anchor="start" letter-spacing="0.328" textLength="56.9" lengthAdjust="spacingAndGlyphs">ICON</text>
<text x="80.2" y="61.4" font-size="18px" fill="#b05ae6" stroke="#fff" stroke-width="0.75" textLength="19.5" lengthAdjust="spacingAndGlyphs">-</text>
<text x="100.80" y="60.9" font-size="18px" fill="#b05ae6" stroke="#fff" stroke-width="0.6" text-anchor="start" letter-spacing="-0.899" textLength="34.3" lengthAdjust="spacingAndGlyphs">EU,</text>
<text x="151.50" y="64.6" font-size="25px" fill="#b05ae6" stroke="#fff" stroke-width="0.9" text-anchor="start" letter-spacing="2.200" textLength="23.8" lengthAdjust="spacingAndGlyphs">~</text>
<text x="186.50" y="60.9" font-size="18px" fill="#b05ae6" stroke="#fff" stroke-width="0.6" text-anchor="start" letter-spacing="0.844" textLength="48.6" lengthAdjust="spacingAndGlyphs">7km</text>
<text x="963.93" y="22.8" font-size="12.8px" fill="#a536e0" stroke="#fff" stroke-width="0.3" text-anchor="end" letter-spacing="0.341" textLength="375.0" lengthAdjust="spacingAndGlyphs" word-spacing="1.5">requested lon,lat (20.7891E, 42.7476N)</text>
<text x="953.04" y="40.8" font-size="12.8px" fill="#a536e0" stroke="#fff" stroke-width="0.3" text-anchor="end" letter-spacing="0.414" textLength="427.1" lengthAdjust="spacingAndGlyphs" word-spacing="1.5">grid point closest lon,lat (20.8125E, 42.75N)</text>
<text x="963.87" y="58.8" font-size="12.8px" fill="#a536e0" stroke="#fff" stroke-width="0.3" text-anchor="end" letter-spacing="0.302" textLength="185.0" lengthAdjust="spacingAndGlyphs" word-spacing="1.5">Point Altitude 613m</text>
<text x="963.83" y="76.8" font-size="12.8px" fill="#a536e0" stroke="#fff" stroke-width="0.3" text-anchor="end" letter-spacing="0.276" textLength="288.9" lengthAdjust="spacingAndGlyphs" word-spacing="1.5">Model Point Altitude 659.375m</text>
<text class="vl" transform="translate(25 213) rotate(-90)" text-anchor="middle" font-size="20.4px" fill="#00a0ff" stroke="#fff" stroke-width="0.3" word-spacing="4" textLength="46" lengthAdjust="spacingAndGlyphs">PRMSL</text>
<text class="vl" transform="translate(49 213) rotate(-90)" text-anchor="middle" font-size="20.4px" fill="#00a0ff" stroke="#fff" stroke-width="0.3" word-spacing="4" textLength="186" lengthAdjust="spacingAndGlyphs">Pressure Reduced to MSL</text>
<text class="vl" transform="translate(109 213.5) rotate(-90)" text-anchor="middle" font-size="20.4px" fill="#000" stroke="#fff" stroke-width="0.3" word-spacing="4" textLength="37" lengthAdjust="spacingAndGlyphs">(hPa)</text>
<text class="vl" transform="translate(25 368.5) rotate(-90)" text-anchor="middle" font-size="20.4px" fill="#fa3c3c" stroke="#fff" stroke-width="0.3" word-spacing="4" textLength="75" lengthAdjust="spacingAndGlyphs">Wind GUST</text>
<text class="vl" transform="translate(49 375.5) rotate(-90)" text-anchor="middle" font-size="20.4px" fill="#000" stroke="#fff" stroke-width="0.3" word-spacing="4" textLength="69" lengthAdjust="spacingAndGlyphs">10m Wind</text>
<text class="vl" transform="translate(72 368) rotate(-90)" text-anchor="middle" font-size="20.4px" fill="#00dc00" stroke="#fff" stroke-width="0.3" word-spacing="4" textLength="146" lengthAdjust="spacingAndGlyphs">Speed and Direction</text>
<text class="vl" transform="translate(102.6 368) rotate(-90)" text-anchor="middle" font-size="20.4px" fill="#000" stroke="#fff" stroke-width="0.3" word-spacing="4" textLength="42" lengthAdjust="spacingAndGlyphs">(m/s)</text>
<text class="vl" transform="translate(49 531) rotate(-90)" text-anchor="middle" font-size="20.4px" fill="#fa3c3c" stroke="#fff" stroke-width="0.3" word-spacing="4" textLength="66" lengthAdjust="spacingAndGlyphs">2m Temp</text>
<text class="vl" transform="translate(72 527) rotate(-90)" text-anchor="middle" font-size="20.4px" fill="#e6af2d" stroke="#fff" stroke-width="0.3" word-spacing="4" textLength="71" lengthAdjust="spacingAndGlyphs">SFC Temp</text>
<text class="vl" transform="translate(96 526.5) rotate(-90)" text-anchor="middle" font-size="20.4px" fill="#00dc00" stroke="#fff" stroke-width="0.3" word-spacing="4" textLength="85" lengthAdjust="spacingAndGlyphs">dewpt Temp</text>
<text class="vl" transform="translate(120 522.5) rotate(-90)" text-anchor="middle" font-size="21.5px" fill="#000" stroke="#fff" stroke-width="0.3" word-spacing="4" textLength="21.5" lengthAdjust="spacingAndGlyphs">(C)</text>
<text class="vl" transform="translate(25.4 677) rotate(-90)" text-anchor="middle" font-size="20.4px" fill="#00a0ff" stroke="#fff" stroke-width="0.3" word-spacing="4" textLength="88" lengthAdjust="spacingAndGlyphs">Total Clouds</text>
<text class="vl" transform="translate(72.4 677.3) rotate(-90)" text-anchor="middle" font-size="20.4px" fill="#e6af2d" stroke="#fff" stroke-width="0.3" word-spacing="4" textLength="80.6" lengthAdjust="spacingAndGlyphs">Low Clouds</text>
<text class="vl" transform="translate(120 677.5) rotate(-90)" text-anchor="middle" font-size="22.5px" fill="#000" stroke="#fff" stroke-width="0.3" word-spacing="4" textLength="21.5" lengthAdjust="spacingAndGlyphs">(%)</text>
<text class="vl" transform="translate(137 828) rotate(-90)" text-anchor="middle" font-size="20.4px" fill="#000" stroke="#fff" stroke-width="0.3" word-spacing="4" textLength="121" lengthAdjust="spacingAndGlyphs">1hr Precip (mm)</text>
<text class="sf" transform="translate(983.2 693.2) rotate(-90)" text-anchor="middle" font-size="22px" fill="#cfdccf" stroke="#fff" stroke-width="0.2" word-spacing="3" textLength="66.5" lengthAdjust="spacingAndGlyphs">by Angel</text>
<text x="14.00" y="823.6" font-size="15.6px" fill="#1ec81e" stroke="#fff" stroke-width="0.35" text-anchor="start" letter-spacing="-0.129" textLength="41.8" lengthAdjust="spacingAndGlyphs">Total</text>
<text x="79.60" y="823.6" font-size="15.6px" fill="#1ec81e" stroke="#fff" stroke-width="0.35" text-anchor="start" letter-spacing="-0.944" textLength="35.6" lengthAdjust="spacingAndGlyphs">Rain</text>
<text x="14.40" y="860.4" font-size="15.6px" fill="#4650ff" stroke="#fff" stroke-width="0.35" text-anchor="start" letter-spacing="0.250" textLength="81.5" lengthAdjust="spacingAndGlyphs">Snow/1h</text>
<text x="53.00" y="887.6" font-size="16.2px" fill="#4650ff" stroke="#fff" stroke-width="0.35" text-anchor="start" letter-spacing="0.543" textLength="43.3" lengthAdjust="spacingAndGlyphs">[cm]</text>
<text class="sf" x="425.4" y="973.0" font-size="17px" fill="#c9d9c9" stroke="#fff" stroke-width="0.2" letter-spacing="1.336" textLength="101.7" lengthAdjust="spacingAndGlyphs">Skenderaj</text>
<text class="sf" x="424.4" y="972.0" font-size="17px" fill="#505050" stroke="#fff" stroke-width="0.25" letter-spacing="1.336" textLength="101.7" lengthAdjust="spacingAndGlyphs">Skenderaj</text>
<g font-size="10.6px" fill="#aa5af0" text-anchor="middle">
<text x="136" y="299.3">N</text><text x="136" y="358.7">S</text><text x="97.8" y="331.2">W</text><text x="171.8" y="331.2">E</text>
</g>
<path fill="none" stroke="#aa5af0" stroke-width="0.9" d="M125 327.5h8M137 327.5h8.5M136 314.5v6.5M136 333v6.5M121 324.5l-7 3l7 3M149.7 324.5l7 3l-7 3M132.3 311.5l3.7 -5l3.7 5M132.3 342.7l3.7 5.6l3.7 -5.6"/>
</svg></body></html>
